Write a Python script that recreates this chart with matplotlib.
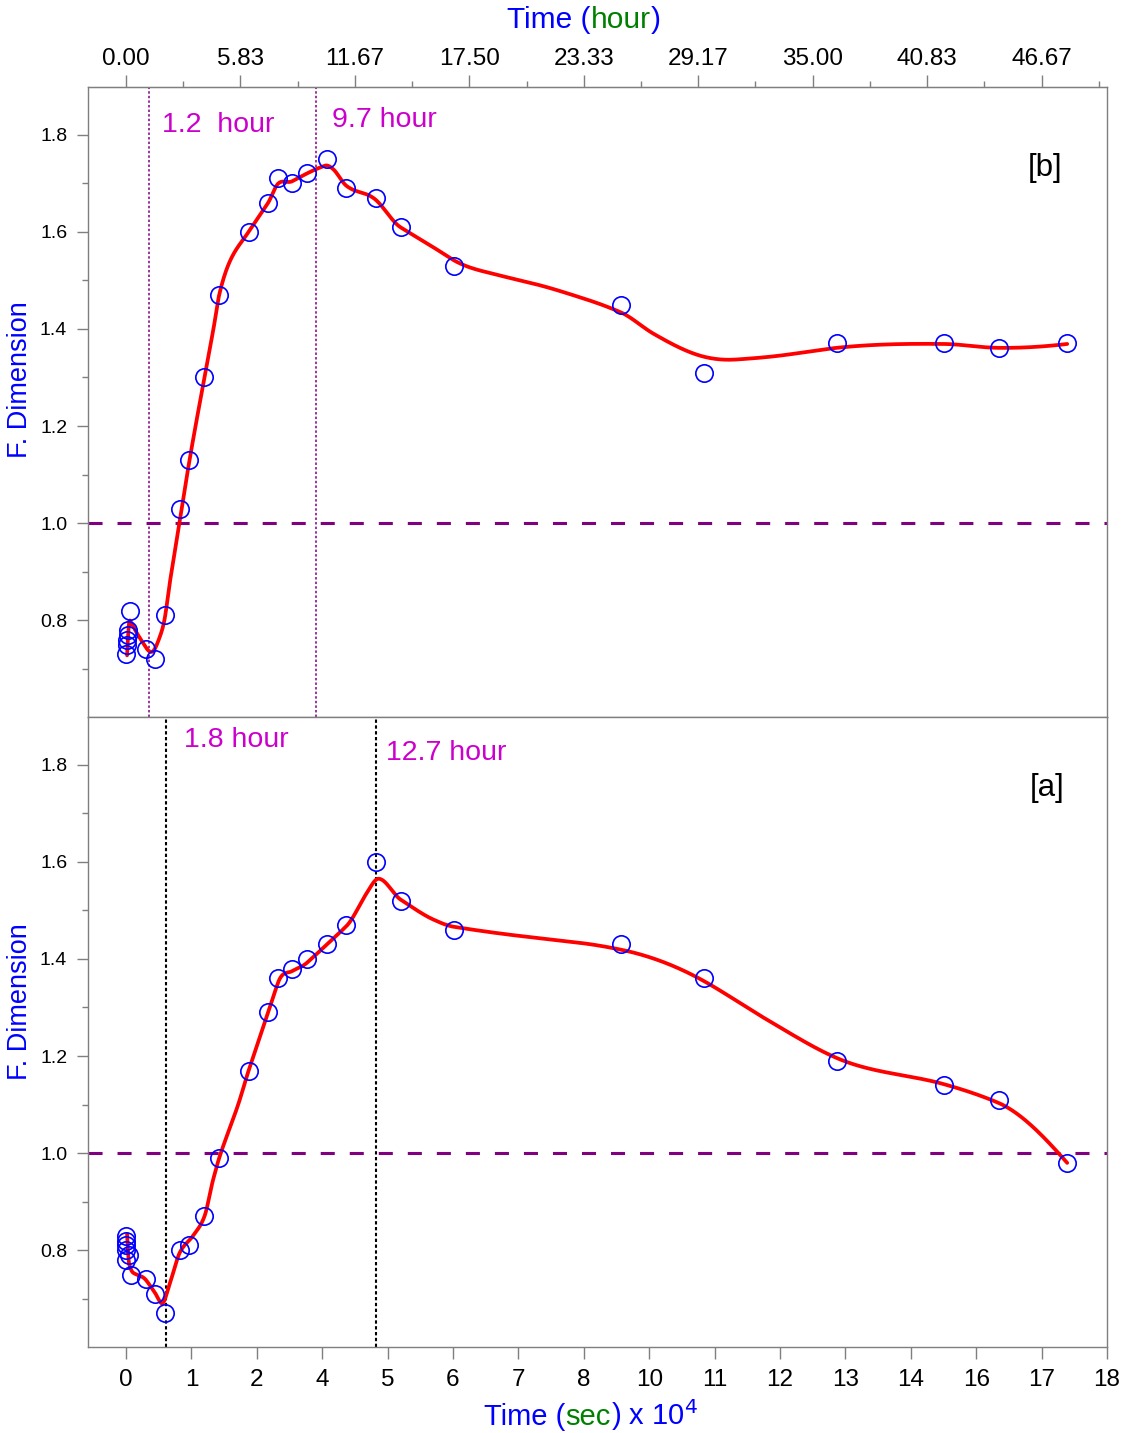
import numpy as np
import matplotlib
matplotlib.use("Agg")
import matplotlib.pyplot as plt
from matplotlib.ticker import FixedLocator, FormatStrFormatter
from matplotlib.offsetbox import TextArea, HPacker, AnnotationBbox

plt.rcParams["font.family"] = ["Liberation Sans", "DejaVu Sans"]

# ---- data (time in units of 1e4 s) ----
x_late = [0.36, 0.54, 0.72, 0.99, 1.16, 1.44, 1.71, 2.25, 2.61, 2.79, 3.05, 3.32,
          3.68, 4.04, 4.58, 5.04, 6.02, 9.08, 10.61, 13.04, 15.01, 16.01, 17.27]

# panel [b]
b_x_early = [0.0, 0.01, 0.02, 0.03, 0.04, 0.07]
b_y_early = [0.73, 0.75, 0.76, 0.77, 0.78, 0.82]
b_y_late = [0.74, 0.72, 0.81, 1.03, 1.13, 1.30, 1.47, 1.60, 1.66, 1.71, 1.70, 1.72,
            1.75, 1.69, 1.67, 1.61, 1.53, 1.45, 1.31, 1.37, 1.37, 1.36, 1.37]

# panel [a]
a_x_early = [0.0, 0.0, 0.0, 0.0, 0.0, 0.05, 0.09]
a_y_early = [0.83, 0.82, 0.81, 0.80, 0.78, 0.79, 0.75]
a_y_late = [0.74, 0.71, 0.67, 0.80, 0.81, 0.87, 0.99, 1.17, 1.29, 1.36, 1.38, 1.40,
            1.43, 1.47, 1.60, 1.52, 1.46, 1.43, 1.36, 1.19, 1.14, 1.11, 0.98]

# smoothed fit curves (knots)
b_fit_x = [0.02, 0.07, 0.23, 0.38, 0.47, 0.62, 0.72, 0.81, 0.98, 1.16, 1.44, 1.60,
           1.71, 2.25, 2.61, 2.79, 3.05, 3.32, 3.65, 3.80, 4.04, 4.58, 5.04, 5.64,
           6.02, 6.86, 7.72, 8.33, 9.08, 9.68, 10.53, 11.2, 12.0, 13.04, 15.0, 16.0, 17.27]
b_fit_y = [0.728, 0.800, 0.768, 0.742, 0.735, 0.766, 0.81, 0.882, 0.999, 1.126, 1.30, 1.397,
           1.47, 1.60, 1.66, 1.699, 1.704, 1.72, 1.736, 1.729, 1.695, 1.666, 1.609, 1.568,
           1.541, 1.51, 1.486, 1.465, 1.434, 1.39, 1.345, 1.337, 1.345, 1.361, 1.369, 1.361, 1.369]

a_fit_x = [0.02, 0.06, 0.13, 0.38, 0.53, 0.65, 0.81, 0.99, 1.23, 1.44, 1.60, 1.71, 2.09,
           2.25, 2.61, 2.79, 3.05, 3.32, 3.68, 4.04, 4.42, 4.63, 5.04, 5.64, 6.02, 7.17,
           8.33, 9.08, 10.61, 11.76, 13.04, 15.01, 16.0, 17.27]
a_fit_y = [0.833, 0.771, 0.754, 0.737, 0.713, 0.691, 0.734, 0.796, 0.83, 0.87, 0.946, 0.99,
           1.111, 1.17, 1.29, 1.351, 1.375, 1.392, 1.429, 1.467, 1.536, 1.565, 1.522, 1.481,
           1.466, 1.448, 1.433, 1.419, 1.354, 1.275, 1.196, 1.142, 1.104, 0.98]

# marker lines and labels
b_vlines = [0.43, 3.49]
b_vlabels = ["1.2  hour", "9.7 hour"]
a_vlines = [0.73, 4.58]
a_vlabels = ["1.8 hour", "12.7 hour"]

sec_ticks = [k * 1.2 for k in range(16)]
hour_ticks = [k * 35 / 6 for k in range(9)]
hour_minor = [(k + 0.5) * 35 / 6 for k in range(9)]


def akima(x, y, xs):
    """Akima spline through the knots (smooth, little overshoot)."""
    x = np.asarray(x, float)
    y = np.asarray(y, float)
    n = len(x)
    h = np.diff(x)
    d = np.diff(y) / h
    dd = np.empty(n + 3)
    dd[2:n + 1] = d
    dd[1] = 2 * dd[2] - dd[3]
    dd[0] = 2 * dd[1] - dd[2]
    dd[n + 1] = 2 * dd[n] - dd[n - 1]
    dd[n + 2] = 2 * dd[n + 1] - dd[n]
    t = np.empty(n)
    for i in range(n):
        w1 = abs(dd[i + 3] - dd[i + 2])
        w2 = abs(dd[i + 1] - dd[i])
        if w1 + w2 < 1e-12:
            t[i] = 0.5 * (dd[i + 1] + dd[i + 2])
        else:
            t[i] = (w1 * dd[i + 1] + w2 * dd[i + 2]) / (w1 + w2)
    idx = np.clip(np.searchsorted(x, xs) - 1, 0, n - 2)
    hi = h[idx]
    s = (xs - x[idx]) / hi
    h00 = 2 * s**3 - 3 * s**2 + 1
    h10 = s**3 - 2 * s**2 + s
    h01 = -2 * s**3 + 3 * s**2
    h11 = s**3 - s**2
    return h00 * y[idx] + h10 * hi * t[idx] + h01 * y[idx + 1] + h11 * hi * t[idx + 1]


W, H = 1128, 1433
fig = plt.figure(figsize=(W / 100, H / 100), dpi=100)
L, R = 88 / W, 1107 / W
ax_b = fig.add_axes([L, 1 - 717 / H, R - L, (717 - 87) / H])
ax_a = fig.add_axes([L, 1 - 1347 / H, R - L, (1347 - 717) / H], sharex=ax_b)

GRAY = "#7f7f7f"
MAG = "#cc00cc"
PURPLE = "#800080"

panels = [
    (ax_b, b_x_early + x_late, b_y_early + b_y_late, b_fit_x, b_fit_y,
     b_vlines, b_vlabels, PURPLE, (0, (1.6, 1.4)), 1.1, "[b]",
     [(0.66, 1.82), (3.78, 1.83)], (16.55, 1.732)),
    (ax_a, a_x_early + x_late, a_y_early + a_y_late, a_fit_x, a_fit_y,
     a_vlines, a_vlabels, "black", (0, (1.6, 1.2)), 1.5, "[a]",
     [(1.06, 1.851), (4.77, 1.824)], (16.59, 1.751)),
]

for ax, px, py, fx, fy, vl, vlab, vcol, vls, vlw, tag, lab_pos, tag_pos in panels:
    xs = np.linspace(fx[0], fx[-1], 2000)
    ax.plot(xs, akima(fx, fy, xs), color="red", lw=2.7, zorder=3,
            solid_capstyle="round")
    ax.plot(px, py, linestyle="none", marker="o", ms=12.5, mfc="none",
            mec="blue", mew=1.2, zorder=4)
    ax.axhline(1.0, color=PURPLE, lw=2.2, linestyle=(0, (4.6, 4.9)), zorder=2)
    for xv, txt, (tx, ty) in zip(vl, vlab, lab_pos):
        ax.axvline(xv, color=vcol, lw=vlw, linestyle=vls, zorder=2)
        ax.text(tx, ty, txt, color=MAG, fontsize=20.5, ha="left", va="center")
    ax.text(tag_pos[0], tag_pos[1], tag, fontsize=22.5, ha="left", va="center")

    ax.set_ylim(0.601, 1.898)
    ax.yaxis.set_major_locator(FixedLocator([0.8, 1.0, 1.2, 1.4, 1.6, 1.8]))
    ax.yaxis.set_minor_locator(FixedLocator([0.7, 0.9, 1.1, 1.3, 1.5, 1.7]))
    ax.yaxis.set_major_formatter(FormatStrFormatter("%.1f"))
    ax.tick_params(axis="y", which="major", direction="out", length=8, width=1,
                   color=GRAY, labelsize=14, pad=7)
    ax.tick_params(axis="y", which="minor", direction="out", length=4.3, width=1,
                   color=GRAY)
    for s in ax.spines.values():
        s.set_color(GRAY)
        s.set_linewidth(1.0)

ax_b.set_xlim(-0.697, 18.0)
ax_a.xaxis.set_major_locator(FixedLocator(sec_ticks))
ax_a.xaxis.set_major_formatter(FormatStrFormatter("%.0f"))
ax_a.tick_params(axis="x", which="major", direction="out", length=8.5, width=1,
                 color=GRAY, labelsize=17.5, pad=7)
ax_b.tick_params(axis="x", which="both", bottom=False, labelbottom=False)
ax_a.tick_params(axis="x", which="minor", bottom=False)

# hours on top
sec_ax = ax_b.secondary_xaxis("top", functions=(lambda s: s * 1e4 / 3600,
                                                lambda h: h * 3600 / 1e4))
sec_ax.xaxis.set_major_locator(FixedLocator(hour_ticks))
sec_ax.xaxis.set_minor_locator(FixedLocator(hour_minor))
sec_ax.xaxis.set_major_formatter(FormatStrFormatter("%.2f"))
sec_ax.tick_params(which="major", direction="out", length=8.5, width=1,
                   color=GRAY, labelsize=17.5, pad=4)
sec_ax.tick_params(which="minor", direction="out", length=4.3, width=1, color=GRAY)
sec_ax.spines["top"].set_color(GRAY)

# axis titles with colored parts
def colored_title(parts, xy, size):
    boxes = [TextArea(t, textprops=dict(color=c, fontsize=size)) for t, c in parts]
    pack = HPacker(children=boxes, align="baseline", pad=0, sep=0)
    ab = AnnotationBbox(pack, xy, xycoords="figure fraction", frameon=False,
                        box_alignment=(0.5, 0.5))
    fig.add_artist(ab)

colored_title([("Time (", "blue"), ("hour", "green"), (")", "blue")],
              (584 / W, 1 - 20 / H), 21.5)
colored_title([("Time (", "blue"), ("sec", "green"), (") x 10$^{4}$", "blue")],
              (591 / W, 1 - 1415 / H), 21)

fig.text(20 / W, 1 - 380 / H, "F. Dimension", rotation=90, color="blue",
         fontsize=19.5, ha="center", va="center")
fig.text(20 / W, 1 - 1002 / H, "F. Dimension", rotation=90, color="blue",
         fontsize=19.5, ha="center", va="center")

fig.savefig("out.png", dpi=100)
